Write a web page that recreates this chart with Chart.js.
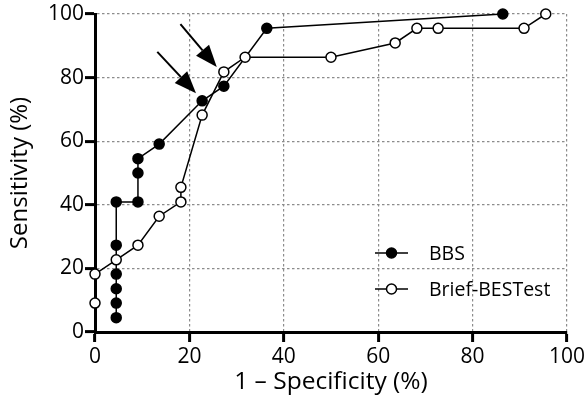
<!DOCTYPE html>
<html>
<head>
<meta charset="utf-8">
<script src="https://cdn.jsdelivr.net/npm/chart.js@4.4.0/dist/chart.umd.min.js"></script>
<style>
  html, body { margin: 0; padding: 0; background: #fff; }
  canvas { display: block; }
</style>
</head>
<body>
<canvas id="roc" width="587" height="402"></canvas>
<script>
// ROC curves, values in %
const bbsX   = [4.5, 4.5, 4.5, 4.5, 4.5, 4.5, 9.1, 9.1, 9.1, 13.6, 22.7, 27.3, 36.4, 86.4];
const bbsY   = [4.5, 9.1, 13.6, 18.2, 27.3, 40.9, 40.9, 50, 54.5, 59.1, 72.7, 77.3, 95.5, 100];
const briefX = [0, 0, 4.5, 9.1, 13.6, 18.2, 18.2, 22.7, 27.3, 31.8, 50, 63.6, 68.2, 72.7, 90.9, 95.5];
const briefY = [9.1, 18.2, 22.7, 27.3, 36.4, 40.9, 45.5, 68.2, 81.8, 86.4, 86.4, 90.9, 95.5, 95.5, 95.5, 100];
const seriesNames = ['BBS', 'Brief-BESTest'];
const tickValues = [0, 20, 40, 60, 80, 100];
// arrows pointing at the chosen cut-offs (data units)
const arrowFrom = [[13.2, 88.1], [18.1, 96.8]];
const arrowTo   = [[21.4, 75.1], [25.8, 83.3]];

const FONT = "'Open Sans', 'Noto Sans', sans-serif";

function toPoints(xs, ys) {
  return xs.map((x, i) => ({ x: x, y: ys[i] }));
}

const extras = {
  id: 'extras',
  afterDatasetsDraw(chart) {
    const ctx = chart.ctx;
    const sx = chart.scales.x, sy = chart.scales.y;

    // arrows
    ctx.save();
    ctx.strokeStyle = '#000';
    ctx.fillStyle = '#000';
    ctx.lineWidth = 2;
    arrowFrom.forEach((a, i) => {
      const x1 = sx.getPixelForValue(a[0]), y1 = sy.getPixelForValue(a[1]);
      const x2 = sx.getPixelForValue(arrowTo[i][0]), y2 = sy.getPixelForValue(arrowTo[i][1]);
      const ang = Math.atan2(y2 - y1, x2 - x1);
      const hl = 22, hw = 8.5;
      const bx = x2 - hl * Math.cos(ang), by = y2 - hl * Math.sin(ang);
      ctx.beginPath();
      ctx.moveTo(x1, y1);
      ctx.lineTo(bx, by);
      ctx.stroke();
      ctx.beginPath();
      ctx.moveTo(x2, y2);
      ctx.lineTo(bx + hw * Math.sin(ang), by - hw * Math.cos(ang));
      ctx.lineTo(bx - hw * Math.sin(ang), by + hw * Math.cos(ang));
      ctx.closePath();
      ctx.fill();
    });
    ctx.restore();

    // legend inside the plot
    ctx.save();
    const lx = 375, rows = [253, 289];
    chart.data.datasets.forEach((ds, i) => {
      const y = rows[i];
      ctx.strokeStyle = '#000';
      ctx.lineWidth = 1.5;
      ctx.beginPath();
      ctx.moveTo(lx, y);
      ctx.lineTo(lx + 33, y);
      ctx.stroke();
      ctx.beginPath();
      ctx.arc(lx + 16.5, y, 5, 0, Math.PI * 2);
      ctx.fillStyle = ds.pointBackgroundColor;
      ctx.fill();
      ctx.stroke();
      ctx.fillStyle = '#000';
      ctx.font = '19.5px ' + FONT;
      ctx.textBaseline = 'middle';
      ctx.fillText(ds.label, lx + 54, y + 1);
    });
    ctx.restore();
  }
};

const ctx = document.getElementById('roc').getContext('2d');
new Chart(ctx, {
  type: 'scatter',
  data: {
    datasets: [{
      label: seriesNames[0],
      data: toPoints(bbsX, bbsY),
      showLine: true,
      borderColor: '#000',
      borderWidth: 1.5,
      pointRadius: 5,
      pointBackgroundColor: '#000',
      pointBorderColor: '#000',
      pointBorderWidth: 1.5,
      clip: false,
      order: 2
    }, {
      label: seriesNames[1],
      data: toPoints(briefX, briefY),
      showLine: true,
      borderColor: '#000',
      borderWidth: 1.5,
      pointRadius: 5,
      pointBackgroundColor: '#fff',
      pointBorderColor: '#000',
      pointBorderWidth: 1.5,
      clip: false,
      order: 1
    }]
  },
  options: {
    responsive: false,
    animation: false,
    devicePixelRatio: 1,
    layout: { padding: { left: 0, right: 17, top: 14, bottom: 0 } },
    plugins: { legend: { display: false }, tooltip: { enabled: false } },
    scales: {
      x: {
        type: 'linear', min: 0, max: 100,
        afterBuildTicks: s => { s.ticks = tickValues.map(v => ({ value: v })); },
        afterFit: s => { s.height = 70; },
        ticks: { color: '#000', font: { family: FONT, size: 21 }, padding: 2, maxRotation: 0 },
        grid: { color: '#8c8c8c', lineWidth: 1.2, tickColor: '#000', tickWidth: 3, tickLength: 10 },
        border: { display: true, color: '#000', width: 3, dash: [2.5, 2.5] },
        title: { display: true, text: '1 – Specificity (%)', color: '#000',
                 font: { family: FONT, size: 24.5 }, padding: { top: 0, bottom: 5 } }
      },
      y: {
        type: 'linear', min: 0, max: 100,
        afterBuildTicks: s => { s.ticks = tickValues.map(v => ({ value: v })); },
        afterFit: s => { s.width = 95; },
        ticks: { color: '#000', font: { family: FONT, size: 21 }, padding: 1 },
        grid: { color: '#8c8c8c', lineWidth: 1.2, tickColor: '#000', tickWidth: 3, tickLength: 10 },
        border: { display: true, color: '#000', width: 3, dash: [2.5, 2.5] },
        title: { display: true, text: 'Sensitivity (%)', color: '#000',
                 font: { family: FONT, size: 24 }, padding: { top: 6, bottom: 0 } }
      }
    }
  },
  plugins: [extras]
});
</script>
</body>
</html>
